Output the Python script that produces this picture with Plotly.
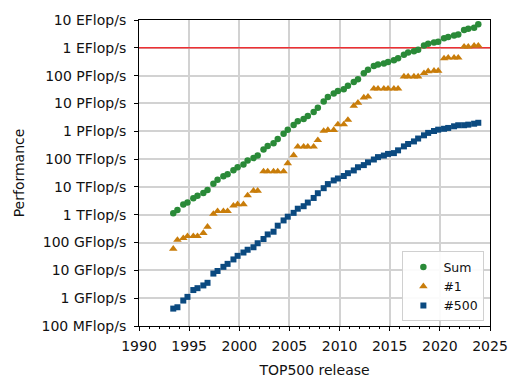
import plotly.graph_objects as go

# TOP500 lists (June / November), performance in GFlop/s
years = [y for y in range(1993, 2024) for _ in (0, 1)]
months = [m for _ in range(1993, 2024) for m in (6, 11)]

sum_gflops = [1128, 1493, 2317, 2732, 3936, 4784, 5986, 7673, 12967, 17989,
              24339, 28596, 39424, 50858, 64244, 88389, 108440, 134390, 222980, 293420,
              374540, 528000, 812880, 1127000, 1690000, 2300000, 2790000, 3530000, 4920000, 6970000,
              11700000, 16950000, 22600000, 27950000, 32400000, 43600000, 58880000, 74200000, 123000000, 162000000,
              223000000, 250000000, 274000000, 309000000, 361000000, 420000000, 566700000, 672000000, 749000000, 845000000,
              1220000000, 1410000000, 1560000000, 1650000000, 2220000000, 2430000000, 2790000000, 3040000000, 4400000000, 4860000000,
              5240000000, 7010000000]

top1_gflops = [59.7, 124.0, 143.4, 170.0, 170.0, 170.0, 220.4, 368.2, 1068, 1338,
               1338, 1338, 2121, 2379, 2379, 4938, 7226, 7226, 35860, 35860,
               35860, 35860, 35860, 70720, 136800, 280600, 280600, 280600, 280600, 478200,
               1026000, 1105000, 1105000, 1759000, 1759000, 2566000, 8162000, 10510000, 16324750, 17590000,
               33862700, 33862700, 33862700, 33862700, 33862700, 33862700, 93014600, 93014600, 93014600, 93014600,
               122300000, 143500000, 148600000, 148600000, 415530000, 442010000, 442010000, 442010000, 1102000000, 1102000000,
               1194000000, 1194000000]

last_gflops = [0.422, 0.472, 0.822, 1.114, 1.96, 2.29, 2.87, 3.57, 7.67, 9.51,
               13.38, 17.12, 24.73, 33.27, 43.82, 55.1, 67.78, 94.3, 134.3, 195.8,
               245.1, 403.4, 624, 850.6, 1166, 1646, 2026, 2737, 4005, 5929,
               9000, 12640, 17090, 20050, 24670, 31120, 39090, 50940, 60820, 76500,
               96620, 117800, 133700, 153400, 164000, 206300, 286100, 349300, 432200, 548300,
               715600, 874800, 1022000, 1142000, 1228000, 1317000, 1511000, 1646000, 1649000, 1730000,
               1870000, 2020000]

tick_vals = [1e8, 1e9, 1e10, 1e11, 1e12, 1e13, 1e14, 1e15, 1e16, 1e17, 1e18, 1e19]
tick_text = ["100 MFlop/s", "1 GFlop/s", "10 GFlop/s", "100 GFlop/s", "1 TFlop/s", "10 TFlop/s",
             "100 TFlop/s", "1 PFlop/s", "10 PFlop/s", "100 PFlop/s", "1 EFlop/s", "10 EFlop/s"]
x_range = [1990, 2025]
EXAFLOP = 1e18

x = [y + (m - 1) / 12 for y, m in zip(years, months)]
G = 1e9

fig = go.Figure()
# exaflop reference line (drawn first so markers sit on top of it)
fig.add_trace(go.Scatter(x=x_range, y=[EXAFLOP, EXAFLOP], mode="lines", showlegend=False,
                         hoverinfo="skip", line=dict(color="#ee2f33", width=1.5)))
fig.add_trace(go.Scatter(x=x, y=[v * G for v in sum_gflops], mode="markers", name="Sum",
                         marker=dict(symbol="circle", size=6.5, color="#2a8a38")))
fig.add_trace(go.Scatter(x=x, y=[v * G for v in top1_gflops], mode="markers", name="#1",
                         marker=dict(symbol="triangle-up", size=7.5, color="#c97d0a")))
fig.add_trace(go.Scatter(x=x, y=[v * G for v in last_gflops], mode="markers", name="#500",
                         marker=dict(symbol="square", size=6, color="#0b4a80")))

txt = "#111111"
f14 = dict(family="DejaVu Sans", size=14, color=txt)
fig.update_layout(
    width=520, height=388,
    margin=dict(l=139, r=17, t=16, b=57),
    paper_bgcolor="white", plot_bgcolor="white",
    font=f14,
    showlegend=True,
    legend=dict(x=0.984, y=0.015, xanchor="right", yanchor="bottom",
                bgcolor="rgba(255,255,255,0.9)", bordercolor="#d0d0d0", borderwidth=1,
                font=dict(family="DejaVu Sans", size=12.5, color=txt),
                itemwidth=30, tracegroupgap=0),
    xaxis=dict(range=x_range, tickmode="linear", tick0=1990, dtick=5,
               ticks="outside", ticklen=4, tickcolor="black", tickwidth=1,
               tickfont=f14, ticklabelstandoff=3, ticklabeloverflow="allow",
               minor=dict(ticks="outside", ticklen=2, dtick=1, tickcolor="black", showgrid=False),
               showline=True, linecolor="black", linewidth=1, mirror=True,
               showgrid=True, gridcolor="#d2d2d2", gridwidth=1.6, zeroline=False,
               title=dict(text="TOP500 release", standoff=12, font=f14)),
    yaxis=dict(type="log", range=[8, 19], tickvals=tick_vals, ticktext=tick_text,
               ticks="outside", ticklen=4, tickcolor="black", tickwidth=1,
               tickfont=f14, ticklabelstandoff=5, ticklabeloverflow="allow",
               showline=True, linecolor="black", linewidth=1, mirror=True,
               showgrid=True, gridcolor="#d2d2d2", gridwidth=1.6, zeroline=False,
               title=dict(text="Performance", standoff=13, font=f14)),
)

fig.write_html("out.html")
